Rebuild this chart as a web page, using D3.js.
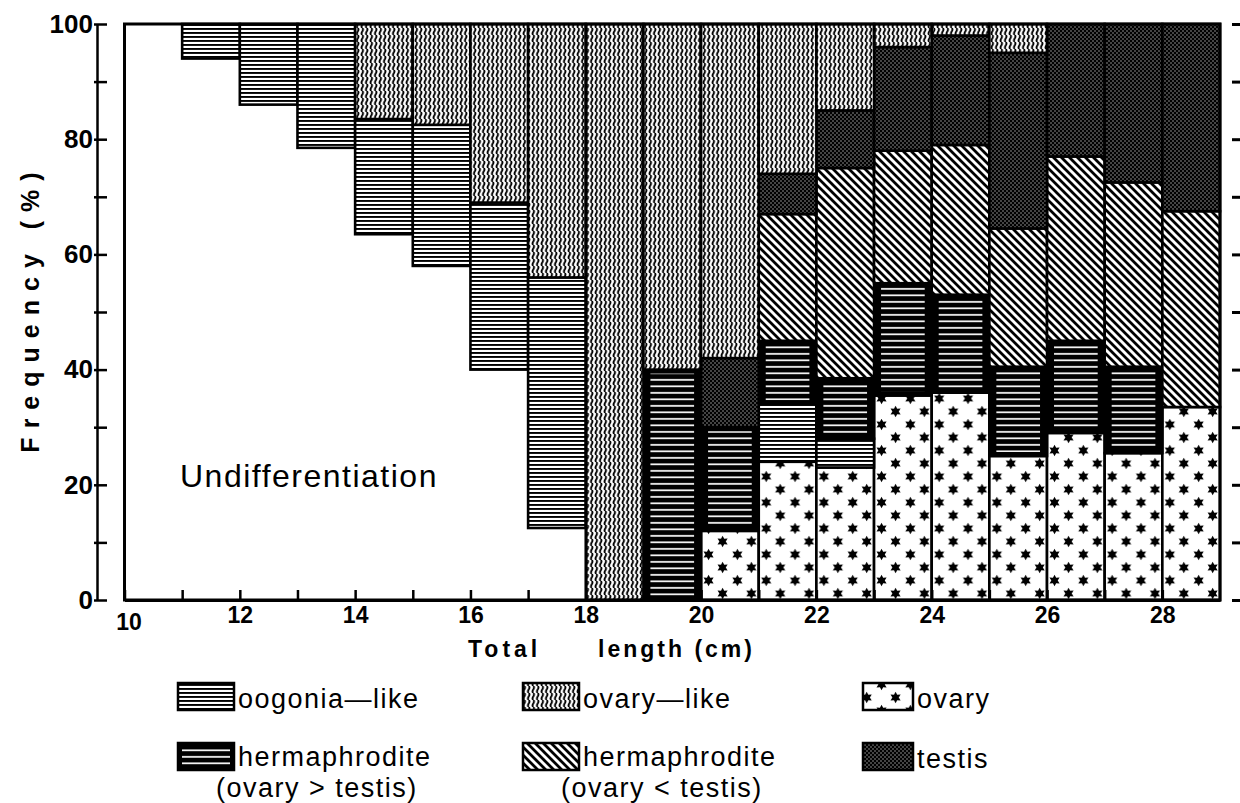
<!DOCTYPE html>
<html lang="en">
<head>
<meta charset="UTF-8">
<title>Gonad stages by total length</title>
<script src="https://d3js.org/d3.v7.min.js"></script>
<style>
  body { margin: 0; background: #fff; }
  svg text { font-family: "Liberation Sans", Arial, sans-serif; fill: #000; }
</style>
</head>
<body>
<div id="chart"></div>
<script>
// lower bound of each 1 cm total length class (cm)
var lengthClass = [10, 11, 12, 13, 14, 15, 16, 17, 18, 19, 20, 21, 22, 23, 24, 25, 26, 27, 28];

// frequency (%) of each gonad stage per length class
var undifferentiated = [100, 94, 86, 78.5, 63.5, 58, 40, 12.5, 0, 0, 0, 0, 0, 0, 0, 0, 0, 0, 0];
var ovary            = [0, 0, 0, 0, 0, 0, 0, 0, 0, 0, 12, 24, 23, 35.5, 36, 25, 29, 25.5, 33.5];
var oogoniaLike      = [0, 6, 14, 21.5, 20, 24.5, 29, 43.5, 0, 0, 0, 10, 5, 0, 0, 0, 0, 0, 0];
var hermOvaryGt      = [0, 0, 0, 0, 0, 0, 0, 0, 0, 40, 18, 11, 10.5, 19.5, 17, 15.5, 16, 15, 0];
var hermOvaryLt      = [0, 0, 0, 0, 0, 0, 0, 0, 0, 0, 0, 22, 36.5, 23, 26, 24, 32, 32, 34];
var testis           = [0, 0, 0, 0, 0, 0, 0, 0, 0, 0, 12, 7, 10, 18, 19, 30.5, 23, 27.5, 32.5];
var ovaryLike        = [0, 0, 0, 0, 16.5, 17.5, 31, 44, 100, 60, 58, 26, 15, 4, 2, 5, 0, 0, 0];

var yTicks = [0, 10, 20, 30, 40, 50, 60, 70, 80, 90, 100];
var xTicks = [10, 11, 12, 13, 14, 15, 16, 17, 18, 19, 20, 21, 22, 23, 24, 25, 26, 27, 28];

// stacking order, bottom to top
var stages = [
  {key: "undifferentiated", values: undifferentiated},
  {key: "ovary", values: ovary, label: ["ovary"]},
  {key: "oogonia", values: oogoniaLike, label: ["oogonia\u2014like"]},
  {key: "hermGt", values: hermOvaryGt, label: ["hermaphrodite", "(ovary > testis)"]},
  {key: "hermLt", values: hermOvaryLt, label: ["hermaphrodite", "(ovary < testis)"]},
  {key: "testis", values: testis, label: ["testis"]},
  {key: "ovaryLike", values: ovaryLike, label: ["ovary\u2014like"]}
];

var width = 1240, height = 803;
var svg = d3.select("#chart").append("svg")
  .attr("width", width)
  .attr("height", height);

var x = d3.scaleLinear().domain([10, 29]).range([124.5, 1220]);
var y = d3.scaleLinear().domain([0, 100]).range([600, 24]);

// ---- fill patterns ----
var defs = svg.append("defs");
var p;

// oogonia-like: dense horizontal lines
p = defs.append("pattern").attr("id", "p-oogonia").attr("patternUnits", "userSpaceOnUse")
  .attr("width", 8).attr("height", 4);
p.append("rect").attr("width", 8).attr("height", 4).attr("fill", "#fff");
p.append("rect").attr("width", 8).attr("height", 1.9).attr("fill", "#000");

// ovary-like: wavy vertical lines
p = defs.append("pattern").attr("id", "p-ovaryLike").attr("patternUnits", "userSpaceOnUse")
  .attr("width", 4.5).attr("height", 7);
p.append("rect").attr("width", 4.5).attr("height", 7).attr("fill", "#fff");
p.append("path").attr("d", "M2.25,0 C5.2,2.4 -0.7,4.6 2.25,7")
  .attr("fill", "none").attr("stroke", "#000").attr("stroke-width", 1.9);

// ovary: stars on white
var cell = (x(11) - x(10)) / 2;
function star(cx, cy, r1, r2) {
  var pts = d3.range(12).map(function(i) {
    var a = Math.PI / 6 * i - Math.PI / 2, r = i % 2 ? r2 : r1;
    return [cx + r * Math.cos(a), cy + r * Math.sin(a)];
  });
  return "M" + pts.join("L") + "Z";
}
p = defs.append("pattern").attr("id", "p-ovary").attr("patternUnits", "userSpaceOnUse")
  .attr("x", x(10)).attr("y", y(0)).attr("width", cell).attr("height", 26);
p.append("rect").attr("width", cell).attr("height", 26).attr("fill", "#fff");
p.append("path").attr("d", star(7.5, 6.5, 5.8, 3.2)).attr("fill", "#000");
p.append("path").attr("d", star(21.5, 19.5, 5.8, 3.2)).attr("fill", "#000");

// hermaphrodite (ovary > testis): white lines, drawn on black
p = defs.append("pattern").attr("id", "p-hermGtLines").attr("patternUnits", "userSpaceOnUse")
  .attr("width", 8).attr("height", 6.5);
p.append("rect").attr("y", 2).attr("width", 8).attr("height", 1.7).attr("fill", "#fff");

// hermaphrodite (ovary < testis): diagonal hatching
p = defs.append("pattern").attr("id", "p-hermLt").attr("patternUnits", "userSpaceOnUse")
  .attr("width", 8).attr("height", 8);
p.append("rect").attr("width", 8).attr("height", 8).attr("fill", "#fff");
p.append("path").attr("d", "M-2,-2 L10,10 M-2,6 L2,10 M6,-2 L10,2")
  .attr("stroke", "#000").attr("stroke-width", 2.8);

// testis: dark stipple
p = defs.append("pattern").attr("id", "p-testis").attr("patternUnits", "userSpaceOnUse")
  .attr("width", 4).attr("height", 4);
p.append("rect").attr("width", 4).attr("height", 4).attr("fill", "#000");
p.append("circle").attr("cx", 1).attr("cy", 1).attr("r", 0.75).attr("fill", "#aaa");
p.append("circle").attr("cx", 3).attr("cy", 3).attr("r", 0.75).attr("fill", "#aaa");

function fillFor(key) {
  if (key === "undifferentiated") return "#fff";
  if (key === "hermGt") return "#000";
  return "url(#p-" + key + ")";
}

// ---- stacked bars ----
var table = lengthClass.map(function(l, i) {
  var row = {len: l};
  stages.forEach(function(s) { row[s.key] = s.values[i]; });
  return row;
});
var series = d3.stack().keys(stages.map(function(s) { return s.key; }))(table);

var bars = svg.append("g");
series.forEach(function(layer) {
  var key = layer.key;
  var segs = layer.filter(function(d) { return d[1] - d[0] > 0; });
  var g = bars.append("g").attr("class", "stage-" + key);
  g.selectAll("rect.seg")
    .data(segs)
    .join("rect")
    .attr("class", "seg")
    .attr("x", function(d) { return x(d.data.len); })
    .attr("y", function(d) { return y(d[1]); })
    .attr("width", function(d) { return x(d.data.len + 1) - x(d.data.len); })
    .attr("height", function(d) { return y(d[0]) - y(d[1]); })
    .attr("fill", fillFor(key))
    .attr("stroke", key === "undifferentiated" ? "none" : "#000")
    .attr("stroke-width", 2.6);
  if (key === "hermGt") {
    g.selectAll("rect.inner")
      .data(segs)
      .join("rect")
      .attr("class", "inner")
      .attr("x", function(d) { return x(d.data.len) + 7; })
      .attr("y", function(d) { return y(d[1]) + 4; })
      .attr("width", function(d) { return x(d.data.len + 1) - x(d.data.len) - 14; })
      .attr("height", function(d) { return Math.max(0, y(d[0]) - y(d[1]) - 8); })
      .attr("fill", "url(#p-hermGtLines)");
  }
});

// frame of the plot area
svg.append("rect")
  .attr("x", x(10)).attr("y", y(100))
  .attr("width", x(29) - x(10)).attr("height", y(0) - y(100))
  .attr("fill", "none").attr("stroke", "#000").attr("stroke-width", 3);

svg.append("text")
  .attr("x", 180).attr("y", 487)
  .attr("font-size", 32).attr("letter-spacing", 1.5)
  .text("Undifferentiation");

// ---- axes ----
var xAxis = svg.append("g")
  .attr("transform", "translate(0," + y(0) + ")")
  .call(d3.axisBottom(x).tickValues(xTicks).tickSize(-10).tickSizeOuter(0).tickPadding(7)
    .tickFormat(function(d) { return d % 2 === 0 ? d : ""; }));
xAxis.select(".domain").attr("stroke-width", 3);
xAxis.selectAll(".tick line").attr("stroke-width", 2.5);
xAxis.selectAll(".tick text").attr("font-size", 23).attr("font-weight", "bold").attr("fill", "#000")
  .attr("font-family", "Liberation Sans, Arial, sans-serif");
xAxis.selectAll(".tick").filter(function(d) { return d === 10; })
  .select("text").attr("dx", 4).attr("dy", "1.0em");

var yAxis = svg.append("g")
  .attr("transform", "translate(97,0)")
  .call(d3.axisLeft(y).tickValues(yTicks).tickSize(-10).tickSizeOuter(0).tickPadding(4)
    .tickFormat(function(d) { return d % 20 === 0 ? d : ""; }));
yAxis.select(".domain").attr("stroke-width", 2.5);
yAxis.selectAll(".tick line").attr("stroke-width", 2.5).attr("x1", -3);
yAxis.selectAll(".tick text").attr("font-size", 26).attr("font-weight", "bold").attr("fill", "#000")
  .attr("font-family", "Liberation Sans, Arial, sans-serif");

// tick marks on the right margin
var rAxis = svg.append("g")
  .attr("transform", "translate(1232,0)")
  .call(d3.axisRight(y).tickValues(yTicks).tickSize(9).tickFormat(""));
rAxis.select(".domain").remove();
rAxis.selectAll(".tick line").attr("stroke-width", 3);

// axis titles
svg.append("text")
  .attr("transform", "translate(39,308) rotate(-90)")
  .attr("text-anchor", "middle")
  .attr("font-size", 25).attr("font-weight", "bold").attr("letter-spacing", 9)
  .text("Frequency (%)");

svg.append("text")
  .attr("x", 468).attr("y", 657)
  .attr("font-size", 23).attr("font-weight", "bold").attr("letter-spacing", 4)
  .text("Total");
svg.append("text")
  .attr("x", 598).attr("y", 657)
  .attr("font-size", 23).attr("font-weight", "bold").attr("letter-spacing", 3)
  .text("length (cm)");

// ---- legend ----
var legendItems = [
  {key: "oogonia", col: 0, row: 0},
  {key: "ovaryLike", col: 1, row: 0},
  {key: "ovary", col: 2, row: 0},
  {key: "hermGt", col: 0, row: 1},
  {key: "hermLt", col: 1, row: 1},
  {key: "testis", col: 2, row: 1}
];
var colX = [178, 523, 863];
var rowY = [683, 743];

var legend = svg.append("g");
legendItems.forEach(function(item) {
  var stage = stages.find(function(s) { return s.key === item.key; });
  var lx = colX[item.col], ly = rowY[item.row];
  var sw = item.col === 2 ? 50 : 56;
  legend.append("rect")
    .attr("x", lx).attr("y", ly).attr("width", sw).attr("height", 27)
    .attr("fill", fillFor(item.key)).attr("stroke", "#000").attr("stroke-width", 2.5);
  if (item.key === "hermGt") {
    legend.append("rect")
      .attr("x", lx + 4).attr("y", ly + 4).attr("width", sw - 8).attr("height", 19)
      .attr("fill", "url(#p-hermGtLines)");
  }
  var t = legend.append("text")
    .attr("x", lx + sw + 4).attr("y", ly + (stage.label.length > 1 ? 23 : 25))
    .attr("font-size", 27).attr("letter-spacing", 1.5);
  t.append("tspan").text(stage.label[0]);
  if (stage.label.length > 1) {
    t.append("tspan")
      .attr("x", lx + sw - 18).attr("dy", 31)
      .text(stage.label[1]);
  }
});
</script>
</body>
</html>
